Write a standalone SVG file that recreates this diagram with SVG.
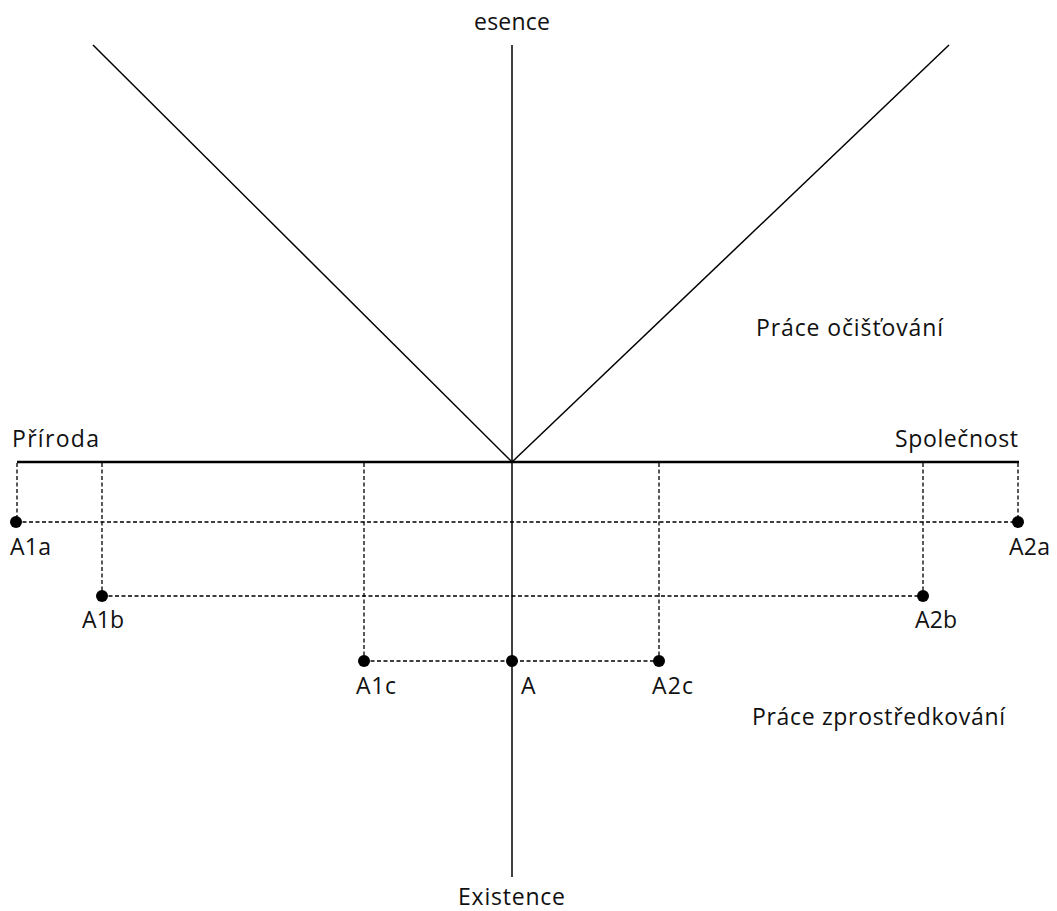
<svg xmlns="http://www.w3.org/2000/svg" width="1057" height="911" viewBox="0 0 1057 911">
<style>
.t{font-family:"Open Sans","Liberation Sans",sans-serif;font-size:23px;fill:#111}
.solid{stroke:#000;stroke-width:1.5;fill:none}
.axis{stroke:#000;stroke-width:2.5;fill:none}
.dash{stroke:#000;stroke-width:1.3;stroke-dasharray:4,2.5;fill:none}
.dot{fill:#000}
</style>
<rect width="1057" height="911" fill="#fff"/>
<g id="connectors">
<line class="solid" x1="512" y1="45" x2="512" y2="877"/>
<line class="solid" x1="512" y1="462" x2="93" y2="45"/>
<line class="solid" x1="512" y1="462" x2="949" y2="45"/>
<line class="axis" x1="17" y1="462" x2="1019" y2="462"/>
<line class="dash" x1="17" y1="463" x2="17" y2="522"/>
<line class="dash" x1="1018" y1="463" x2="1018" y2="522"/>
<line class="dash" x1="102" y1="463" x2="102" y2="596"/>
<line class="dash" x1="923" y1="463" x2="923" y2="596"/>
<line class="dash" x1="364" y1="463" x2="364" y2="661"/>
<line class="dash" x1="659" y1="463" x2="659" y2="661"/>
<line class="dash" x1="16" y1="522" x2="1018" y2="522"/>
<line class="dash" x1="102" y1="596" x2="923" y2="596"/>
<line class="dash" x1="364" y1="661" x2="659" y2="661"/>
</g>
<g id="A1a"><circle class="dot" cx="16" cy="522" r="6"/><text class="t" x="10" y="555" textLength="41">A1a</text></g>
<g id="A2a"><circle class="dot" cx="1018" cy="522" r="6"/><text class="t" x="1009" y="555" textLength="41">A2a</text></g>
<g id="A1b"><circle class="dot" cx="102" cy="596" r="6"/><text class="t" x="82" y="628" textLength="42">A1b</text></g>
<g id="A2b"><circle class="dot" cx="923" cy="596" r="6"/><text class="t" x="915" y="628" textLength="42">A2b</text></g>
<g id="A1c"><circle class="dot" cx="364" cy="661" r="6"/><text class="t" x="356" y="694" textLength="40">A1c</text></g>
<g id="A"><circle class="dot" cx="512" cy="661" r="6"/><text class="t" x="521" y="694">A</text></g>
<g id="A2c"><circle class="dot" cx="659" cy="661" r="6"/><text class="t" x="652" y="694" textLength="41">A2c</text></g>
<g id="labels">
<text class="t" x="474" y="30" textLength="76">esence</text>
<text class="t" x="458" y="905" textLength="107">Existence</text>
<text class="t" x="12" y="447" textLength="87">Příroda</text>
<text class="t" x="895" y="447" textLength="123">Společnost</text>
<text class="t" x="756" y="336" textLength="187">Práce očišťování</text>
<text class="t" x="752" y="725" textLength="253">Práce zprostředkování</text>
</g>
</svg>
